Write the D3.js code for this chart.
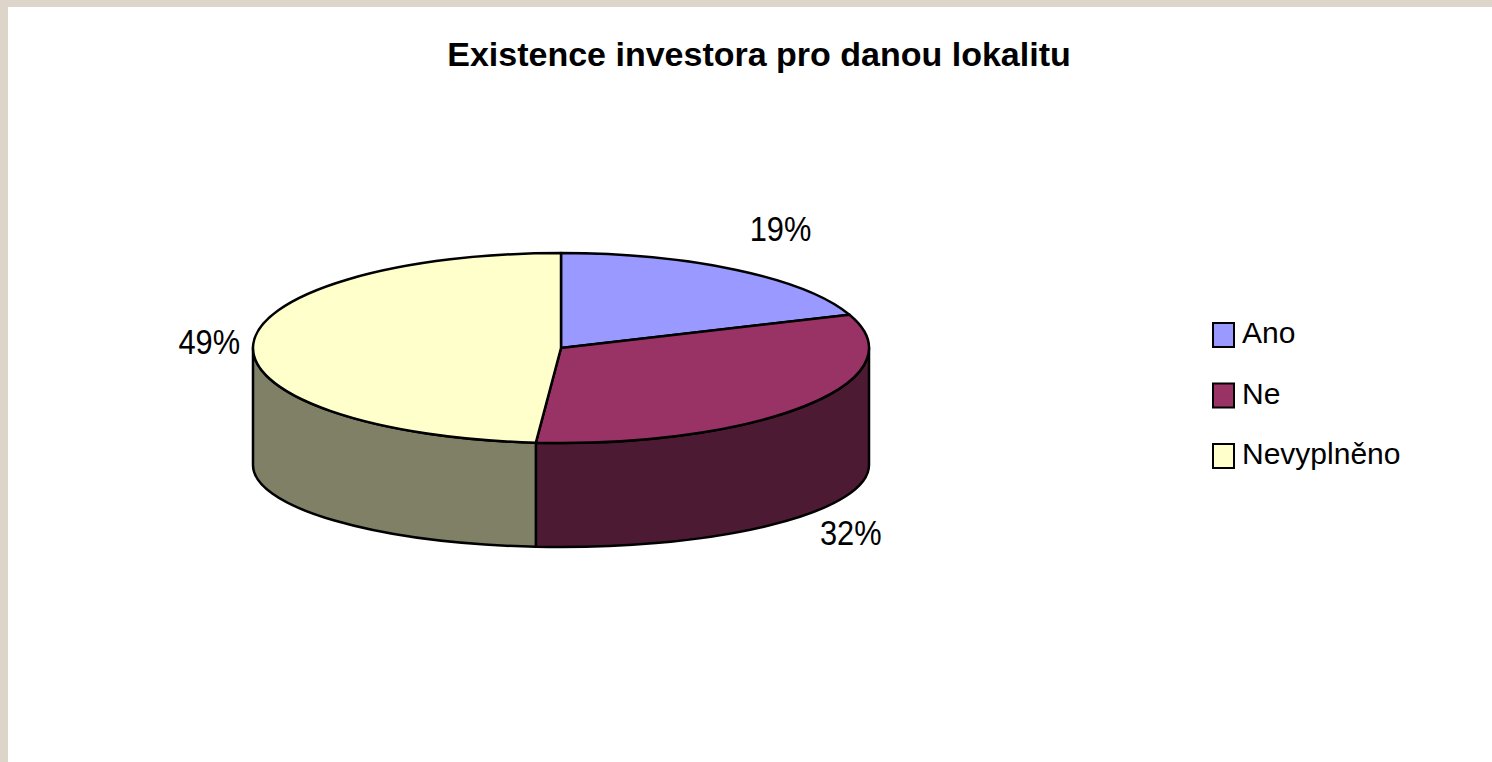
<!DOCTYPE html>
<html>
<head>
<meta charset="utf-8">
<script src="https://cdn.jsdelivr.net/npm/d3@7"></script>
<style>
  html, body { margin: 0; padding: 0; background: #fff; }
  svg { display: block; }
  text { font-family: Arial, "Liberation Sans", sans-serif; fill: #000; }
</style>
</head>
<body>
<div id="chart"></div>
<script>
// data (percent shares, labels are rounded)
const categories = ['Ano', 'Ne', 'Nevyplněno'];
const values = [19.3, 32, 48.7];
const topColors = ['#9999ff', '#993366', '#ffffcc'];
const sideColors = ['#4d4d80', '#4d1a33', '#808066'];
const title = 'Existence investora pro danou lokalitu';

// dimensions
const WIDTH = 1492;
const HEIGHT = 762;
const FRAME_TOP = 7;
const FRAME_LEFT = 8;
const CX = 561;
const CY = 348;
const RX = 308;
const RY = 95;
const CY_BOTTOM = 465;
const RY_BOTTOM = 82;
const LABEL_DX = 44;

const formatPct = d => `${Math.round(d)}%`;

const $svg = d3.select('#chart').append('svg')
  .attr('width', WIDTH)
  .attr('height', HEIGHT);

// beige frame
$svg.append('rect')
  .attr('width', WIDTH).attr('height', HEIGHT)
  .attr('fill', '#ddd5ca');
$svg.append('rect')
  .attr('x', FRAME_LEFT).attr('y', FRAME_TOP)
  .attr('width', WIDTH - FRAME_LEFT).attr('height', HEIGHT - FRAME_TOP)
  .attr('fill', '#fff');

$svg.append('text')
  .attr('x', 759).attr('y', 66)
  .attr('text-anchor', 'middle')
  .style('font-size', '34px')
  .style('font-weight', 'bold')
  .text(title);

const pie = d3.pie().sort(null).value(d => d);
const arcs = pie(values).map((d, i) => ({ ...d, i }));

const topPt = a => [CX + RX * Math.sin(a), CY - RY * Math.cos(a)];
const bottomPt = a => [CX + RX * Math.sin(a), CY_BOTTOM - RY_BOTTOM * Math.cos(a)];

// visible side walls (front half only)
const sidePath = d => {
  const s = Math.max(d.startAngle, Math.PI / 2);
  const e = Math.min(d.endAngle, Math.PI * 1.5);
  if (e <= s) return null;
  const [x0, y0] = topPt(s);
  const [x1, y1] = topPt(e);
  const [x2, y2] = bottomPt(e);
  const [x3, y3] = bottomPt(s);
  return `M${x0},${y0} A${RX},${RY} 0 0 1 ${x1},${y1} L${x2},${y2} ` +
    `A${RX},${RY_BOTTOM} 0 0 0 ${x3},${y3} Z`;
};

const topPath = d => {
  const [x0, y0] = topPt(d.startAngle);
  const [x1, y1] = topPt(d.endAngle);
  const large = d.endAngle - d.startAngle > Math.PI ? 1 : 0;
  return `M${CX},${CY} L${x0},${y0} A${RX},${RY} 0 ${large} 1 ${x1},${y1} Z`;
};

const $vis = $svg.append('g').attr('class', 'g-vis');

$vis.selectAll('.side')
  .data(arcs.filter(d => sidePath(d)))
  .join('path')
  .attr('class', 'side')
  .attr('d', sidePath)
  .attr('fill', d => sideColors[d.i])
  .attr('stroke', '#000')
  .attr('stroke-width', 2.5)
  .attr('stroke-linejoin', 'round');

$vis.selectAll('.slice')
  .data(arcs)
  .join('path')
  .attr('class', 'slice')
  .attr('d', topPath)
  .attr('fill', d => topColors[d.i])
  .attr('stroke', '#000')
  .attr('stroke-width', 2.5)
  .attr('stroke-linejoin', 'round');

// percentage labels outside the pie
$vis.selectAll('.pct')
  .data(arcs)
  .join('text')
  .attr('class', 'pct')
  .attr('text-anchor', 'middle')
  .attr('dy', '0.35em')
  .style('font-size', '35px')
  .each(function (d) {
    const mid = (d.startAngle + d.endAngle) / 2;
    const front = Math.cos(mid) < -0.4;
    const [bx, by] = front ? bottomPt(mid) : topPt(mid);
    d3.select(this)
      .attr('x', bx + LABEL_DX * Math.sign(Math.sin(mid)))
      .attr('y', by - Math.cos(mid) * (front ? 30 : 50));
  })
  .text(d => formatPct(d.data))
  .each(function () {
    const len = this.getComputedTextLength();
    d3.select(this).attr('textLength', len * 0.88).attr('lengthAdjust', 'spacingAndGlyphs');
  });

// legend
const $legend = $svg.append('g').attr('class', 'g-legend');
const $items = $legend.selectAll('.item')
  .data(categories)
  .join('g')
  .attr('class', 'item')
  .attr('transform', (d, i) => `translate(1213, ${323 + i * 60.5})`);

$items.append('rect')
  .attr('x', 0).attr('y', 0)
  .attr('width', 21).attr('height', 24)
  .attr('fill', (d, i) => topColors[i])
  .attr('stroke', '#000')
  .attr('stroke-width', 2);

$items.append('text')
  .attr('x', 29).attr('y', 20)
  .style('font-size', '30px')
  .text(d => d);
</script>
</body>
</html>
